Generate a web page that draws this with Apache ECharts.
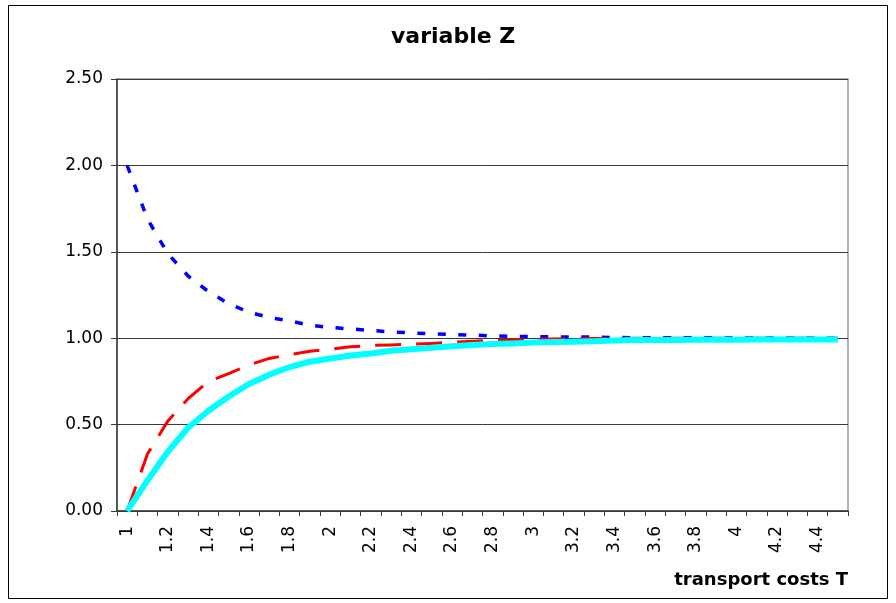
<!DOCTYPE html>
<html>
<head>
<meta charset="utf-8">
<title>variable Z</title>
<script src="https://cdn.jsdelivr.net/npm/echarts@6/dist/echarts.min.js"></script>
<style>
  html, body { margin: 0; padding: 0; background: #ffffff; }
  #chart { width: 896px; height: 603px; }
</style>
</head>
<body>
<div id="chart"></div>
<script>
// Transport costs T (category axis, step 0.1)
const costs = ['1', '1.1', '1.2', '1.3', '1.4', '1.5', '1.6', '1.7', '1.8', '1.9',
  '2', '2.1', '2.2', '2.3', '2.4', '2.5', '2.6', '2.7', '2.8', '2.9',
  '3', '3.1', '3.2', '3.3', '3.4', '3.5', '3.6', '3.7', '3.8', '3.9',
  '4', '4.1', '4.2', '4.3', '4.4', '4.5'];

// Z falling from above towards 1
const zUpper = [2.00, 1.69, 1.49, 1.36, 1.27, 1.20, 1.15, 1.12, 1.10, 1.075,
  1.062, 1.054, 1.045, 1.036, 1.031, 1.025, 1.021, 1.018, 1.013, 1.011,
  1.009, 1.008, 1.007, 1.006, 1.004, 1.003, 1.003, 1.002, 1.002, 1.002,
  1.001, 1.001, 1.001, 1.001, 1.000, 1.000];

// Z rising quickly towards 1
const zFast = [0.00, 0.33, 0.52, 0.65, 0.75, 0.795, 0.845, 0.883, 0.905, 0.925,
  0.937, 0.95, 0.958, 0.961, 0.966, 0.970, 0.976, 0.983, 0.986, 0.990,
  0.993, 0.996, 0.997, 0.998, 0.998, 0.999, 0.999, 0.999, 0.999, 0.999,
  1.000, 1.000, 1.000, 1.000, 1.000, 1.000];

// Z rising slowly towards 1
const zSlow = [0.00, 0.177, 0.343, 0.482, 0.58, 0.663, 0.735, 0.789, 0.833, 0.864,
  0.883, 0.90, 0.912, 0.927, 0.936, 0.945, 0.953, 0.960, 0.966, 0.970,
  0.975, 0.978, 0.980, 0.982, 0.986, 0.989, 0.990, 0.990, 0.991, 0.991,
  0.991, 0.992, 0.992, 0.992, 0.992, 0.992];

// Value axis ticks
const yTicks = { min: 0, max: 2.5, step: 0.5 };

const chart = echarts.init(document.getElementById('chart'), null, { renderer: 'canvas' });

const font = '"DejaVu Sans", "Liberation Sans", Arial, sans-serif';

chart.setOption({
  animation: false,
  backgroundColor: '#ffffff',
  title: {
    text: 'variable Z',
    left: 391,
    top: 26,
    padding: 0,
    textStyle: { fontFamily: font, fontSize: 22, fontWeight: 'bold', color: '#000000' }
  },
  graphic: [{
    type: 'rect',
    silent: true,
    shape: { x: 8.5, y: 5.5, width: 879, height: 593 },
    style: { fill: null, stroke: '#000000', lineWidth: 1 }
  }],
  grid: {
    left: 117,
    right: 48,
    top: 79,
    bottom: 92,
    show: true,
    borderColor: '#9a9a9a',
    borderWidth: 1.5,
    outerBoundsMode: 'none'
  },
  xAxis: {
    type: 'category',
    data: costs,
    boundaryGap: true,
    name: 'transport costs T',
    nameLocation: 'end',
    nameGap: 0,
    nameTextStyle: {
      fontFamily: font, fontSize: 18, fontWeight: 'bold', color: '#000000',
      align: 'right', verticalAlign: 'top', padding: [60, 0, 0, 0]
    },
    axisLine: { show: true, lineStyle: { color: '#3a3a3a', width: 1.5 } },
    axisTick: { show: true, interval: 0, length: 5, inside: false, lineStyle: { color: '#3a3a3a', width: 1 } },
    axisLabel: {
      interval: 1, rotate: 90, margin: 15,
      fontFamily: font, fontSize: 17, color: '#000000'
    },
    splitLine: { show: false }
  },
  yAxis: {
    type: 'value',
    min: yTicks.min,
    max: yTicks.max,
    interval: yTicks.step,
    axisLine: { show: true, lineStyle: { color: '#3a3a3a', width: 1.5 } },
    axisTick: { show: true, length: 6, inside: false, lineStyle: { color: '#3a3a3a', width: 1 } },
    axisLabel: {
      margin: 14,
      fontFamily: font, fontSize: 17, color: '#000000',
      formatter: function (v) { return v.toFixed(2); }
    },
    splitLine: { show: true, lineStyle: { color: '#3a3a3a', width: 1 } }
  },
  series: [
    {
      name: 'Z upper',
      type: 'line',
      data: zUpper,
      symbol: 'none',
      silent: true,
      lineStyle: { color: '#0000ff', width: 3.5, type: [8, 12.5], cap: 'butt', join: 'round' },
      z: 2
    },
    {
      name: 'Z fast',
      type: 'line',
      data: zFast,
      symbol: 'none',
      silent: true,
      lineStyle: { color: '#ff0000', width: 3, type: [26, 15], cap: 'butt', join: 'round' },
      z: 3
    },
    {
      name: 'Z slow',
      type: 'line',
      data: zSlow,
      symbol: 'none',
      silent: true,
      lineStyle: { color: '#00ffff', width: 6, type: 'solid', cap: 'butt', join: 'round' },
      z: 4
    }
  ]
});
</script>
</body>
</html>
